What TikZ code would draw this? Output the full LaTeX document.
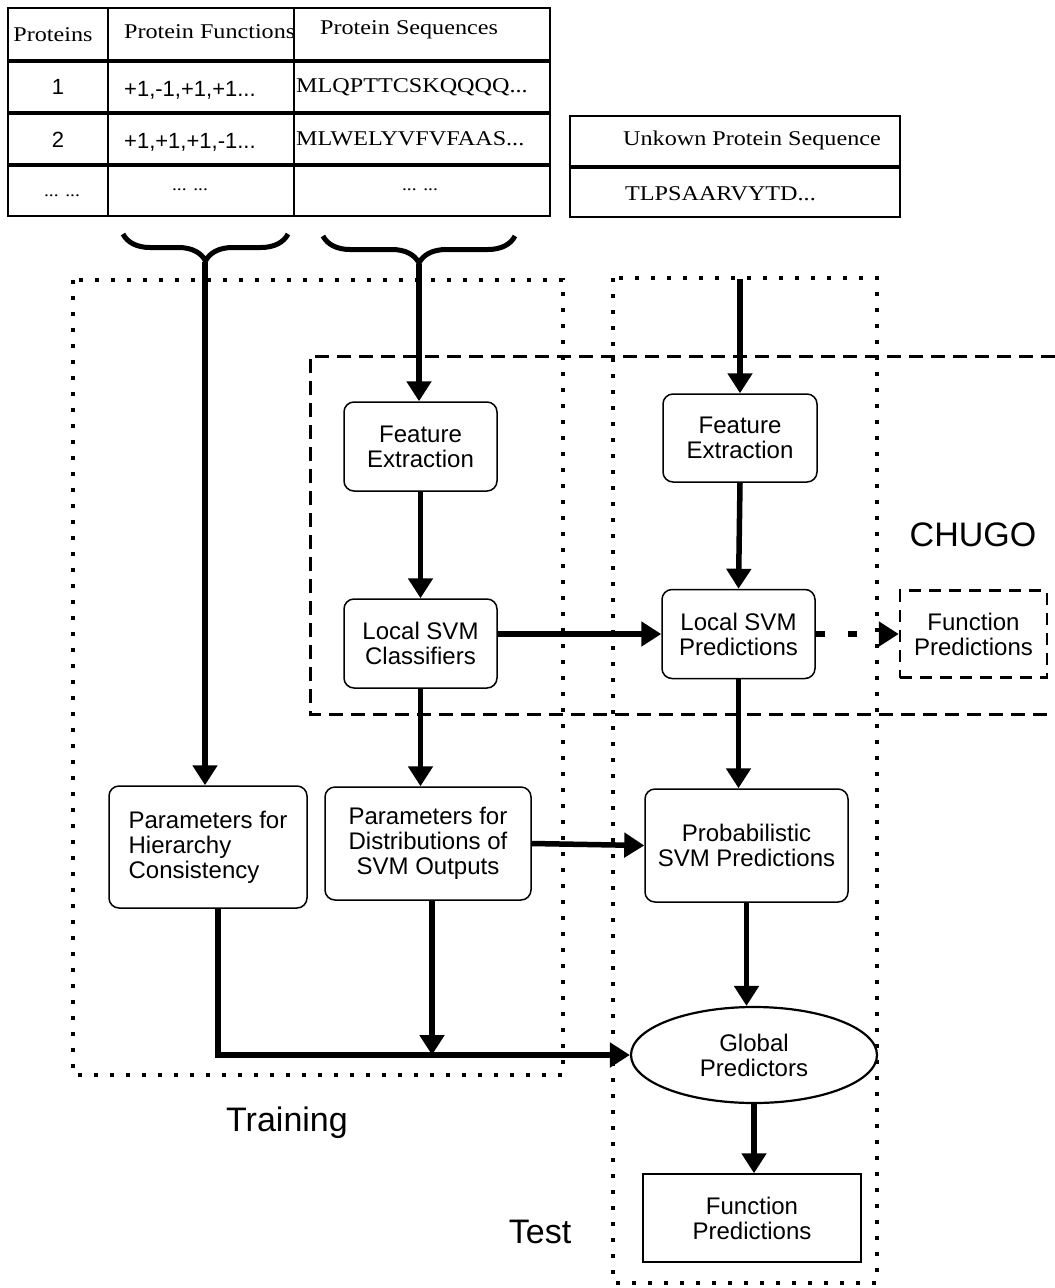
\documentclass[tikz,border=0pt]{standalone}
\usepackage{fontspec}
\usetikzlibrary{arrows.meta,decorations.pathreplacing,shapes.geometric}
\newfontfamily\nodefont{Liberation Sans}
\newfontfamily\tabfont[FakeStretch=1.15]{Liberation Serif}
\tikzset{
  rbox/.style={draw, line width=1.5pt, rounded corners=10pt, align=center,
    font=\nodefont\fontsize{24}{25}\selectfont, inner sep=0pt},
  flow/.style={line width=5.5pt, -{Triangle[length=20pt,width=24pt]}},
  cell/.style={draw, line width=1.4pt, inner sep=0pt},
  tabtxt/.style={font=\tabfont\fontsize{21}{24}\selectfont, inner sep=0pt},
  numtxt/.style={font=\nodefont\fontsize{22}{24}\selectfont, inner sep=0pt},
  dotbox/.style={line width=3.5pt, dash pattern=on 4pt off 12pt},
  dashbox/.style={line width=3pt, dash pattern=on 14pt off 8pt},
  biglabel/.style={font=\nodefont\fontsize{34}{40}\selectfont, inner sep=0pt},
  curly/.style={line width=5pt, decorate, decoration={brace, amplitude=27pt}}
}
\begin{document}
\begin{tikzpicture}[x=1pt,y=-1pt]
\useasboundingbox (0,0) rectangle (1055,1288);

% ---- training table ----
\node[cell, minimum width=100, minimum height=52] (c00) at (58,34) {};
\node[cell, minimum width=186, minimum height=52] (c01) at (201,34) {};
\node[cell, minimum width=256, minimum height=52] (c02) at (422,34) {};
\node[cell, minimum width=100, minimum height=50] (c10) at (58,87) {};
\node[cell, minimum width=186, minimum height=50] (c11) at (201,87) {};
\node[cell, minimum width=256, minimum height=50] (c12) at (422,87) {};
\node[cell, minimum width=100, minimum height=50] (c20) at (58,139) {};
\node[cell, minimum width=186, minimum height=50] (c21) at (201,139) {};
\node[cell, minimum width=256, minimum height=50] (c22) at (422,139) {};
\node[cell, minimum width=100, minimum height=50] (c30) at (58,191) {};
\node[cell, minimum width=186, minimum height=50] (c31) at (201,191) {};
\node[cell, minimum width=256, minimum height=50] (c32) at (422,191) {};

\node[tabtxt] (h0) at (53,35) {Proteins};
\node[tabtxt, anchor=west] (h1) at (124,32) {Protein Functions};
\node[tabtxt, anchor=west] (h2) at (320,30) {Protein Sequences};
\node[numtxt] (n1) at (58,87) {1};
\node[numtxt, anchor=west] (f1) at (124,90) {+1,-1,+1,+1...};
\node[tabtxt, anchor=west] (s1) at (296,87) {MLQPTTCSKQQQQ...};
\node[numtxt] (n2) at (58,140) {2};
\node[numtxt, anchor=west] (f2) at (124,142) {+1,+1,+1,-1...};
\node[tabtxt, anchor=west] (s2) at (296,139) {MLWELYVFVFAAS...};
\node[tabtxt] (d0) at (62,196) {\fontsize{17}{20}\selectfont ... ...};
\node[tabtxt] (d1) at (190,190) {\fontsize{17}{20}\selectfont ... ...};
\node[tabtxt] (d2) at (420,190) {\fontsize{17}{20}\selectfont ... ...};

% ---- unknown sequence table ----
\node[cell, minimum width=330, minimum height=50] (u0) at (735,141) {};
\node[cell, minimum width=330, minimum height=49] (u1) at (735,192.5) {};
\node[tabtxt] (ut) at (752,140) {Unkown Protein Sequence};
\node[tabtxt, anchor=west] (us) at (625,194) {TLPSAARVYTD...};

% ---- braces under the table columns ----
\draw[curly] (288,234) -- (123,234);
\draw[curly] (515,236) -- (323,236);
\coordinate (b1) at (205,262);
\coordinate (b2) at (419,264);
\coordinate (tin) at (740,279);

% ---- region frames ----
\draw[dotbox] (73,280) rectangle (563,1075);
\draw[dotbox] (613,278) rectangle (877,1283);
\draw[dashbox] (1055,356) -- (310,356) -- (310,714) -- (1055,714);

% ---- process nodes ----
\node[rbox, minimum width=153, minimum height=89] (fe1) at (420.5,446.5) {Feature\\Extraction};
\node[rbox, minimum width=153, minimum height=89] (lsc) at (420.5,643.5) {Local SVM\\Classifiers};
\node[rbox, minimum width=154, minimum height=88] (fe2) at (740,438) {Feature\\Extraction};
\node[rbox, minimum width=153, minimum height=89] (lsp) at (738.5,634) {Local SVM\\Predictions};
\node[rbox, rounded corners=0pt, line width=2.5pt, dash pattern=on 12pt off 8pt,
      minimum width=147, minimum height=87] (fpd) at (973.5,634) {Function\\Predictions};
\node[rbox, align=left, minimum width=198, minimum height=122] (phc) at (208,847)
      {Parameters for\\Hierarchy\\Consistency};
\node[rbox, minimum width=206, minimum height=113] (pds) at (428,843.5)
      {Parameters for\\Distributions of\\SVM Outputs};
\node[rbox, minimum width=203, minimum height=113] (psp) at (746.5,845.5)
      {Probabilistic\\SVM Predictions};
\node[rbox, ellipse, rounded corners=0pt, line width=2.2pt,
      minimum width=246, minimum height=96] (gp) at (754,1055) {Global\\Predictors};
\node[rbox, rounded corners=0pt, minimum width=218, minimum height=88] (fp2) at (752,1218)
      {Function\\Predictions};

% ---- labels ----
\node[biglabel] (chugo) at (973,535) {CHUGO};
\node[biglabel] (train) at (287,1123) {Training};
\node[biglabel] (test) at (540,1232) {Test};

% ---- connectors ----
\draw[flow] (b1) -- (b1 |- phc.north);
\draw[flow] (b2) -- (b2 |- fe1.north);
\draw[flow] (fe1) -- (lsc);
\draw[flow] (lsc.south) -- (lsc.south |- pds.north);
\draw[flow] (lsc.east |- lsp.west) -- (lsp.west);
\draw[flow] (tin) -- (tin |- fe2.north);
\draw[flow] (fe2.south) -- (lsp.north);
\draw[flow, dash pattern=on 9pt off 23pt] (lsp.east) -- (fpd.west);
\draw[flow] (lsp.south) -- (lsp.south |- psp.north);
\draw[flow] (pds.east) -- (psp.west);
\draw[flow] (psp.south) -- (psp.south |- gp.north);
\draw[flow] ([xshift=10pt]phc.south) |- (gp.west);
\draw[flow] ([xshift=4pt]pds.south) -- ([xshift=4pt]pds.south |- gp.west);
\draw[flow] (gp.south) -- (gp.south |- fp2.north);
\end{tikzpicture}
\end{document}
